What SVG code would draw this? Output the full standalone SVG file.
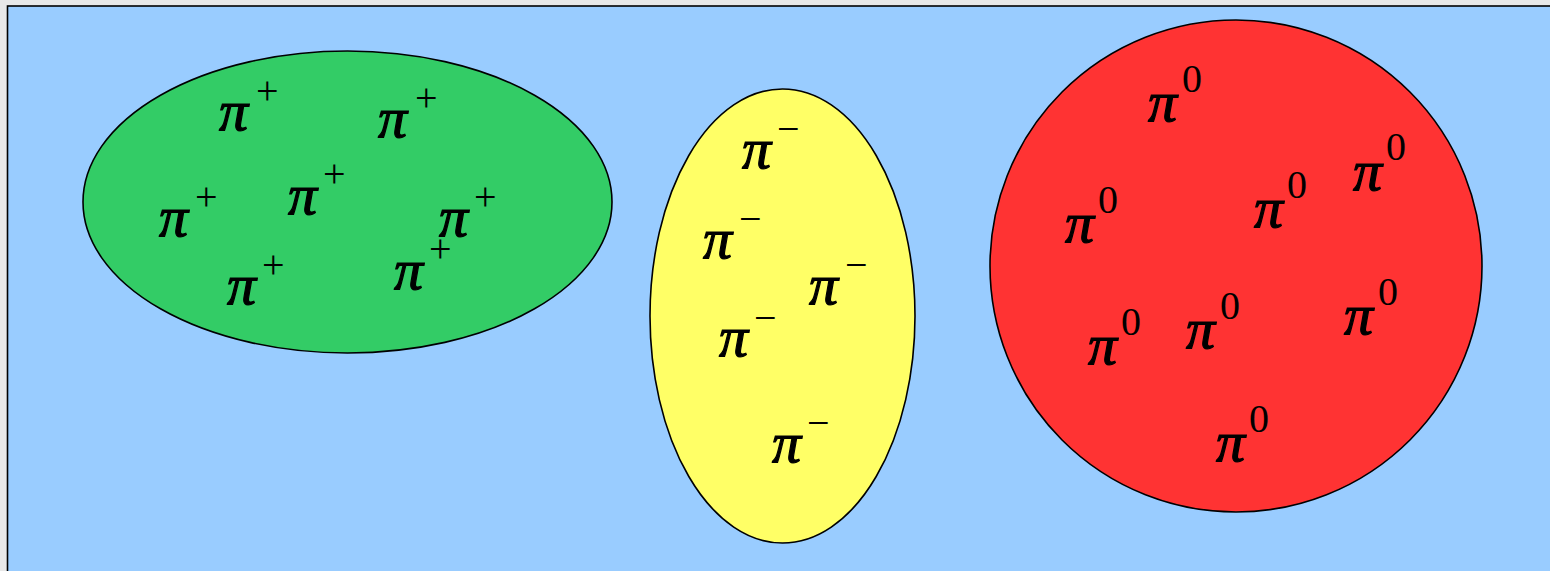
<svg xmlns="http://www.w3.org/2000/svg" width="1550" height="571" viewBox="0 0 1550 571">
<style>
.bg{fill:#e8e8e8}
.frame{fill:#99ccff;stroke:#000;stroke-width:1.6}
.shape{stroke:#000;stroke-width:1.6}
text{font-family:"Liberation Serif","Times New Roman",serif;fill:#000}
.p{font-style:italic;font-weight:normal;font-size:58px;stroke:#000;stroke-width:1.2}
.s{font-size:40px;font-style:normal;font-weight:normal;stroke:none}
</style>
<rect class="bg" x="0" y="0" width="1550" height="571"/>
<rect class="frame" x="7.5" y="6" width="1560" height="580"/>
<g id="green">
<ellipse class="shape" cx="347.5" cy="202" rx="264.5" ry="151" fill="#33cc66"/>
<text><tspan class="p" x="219" y="130">π</tspan><tspan class="s" x="256" y="104">+</tspan></text>
<text><tspan class="p" x="378" y="137">π</tspan><tspan class="s" x="415" y="111">+</tspan></text>
<text><tspan class="p" x="159" y="236">π</tspan><tspan class="s" x="195" y="210">+</tspan></text>
<text><tspan class="p" x="288" y="214">π</tspan><tspan class="s" x="323" y="187">+</tspan></text>
<text><tspan class="p" x="439" y="236">π</tspan><tspan class="s" x="474" y="210">+</tspan></text>
<text><tspan class="p" x="394" y="289">π</tspan><tspan class="s" x="429" y="262">+</tspan></text>
<text><tspan class="p" x="227" y="304">π</tspan><tspan class="s" x="262" y="278">+</tspan></text>
</g>
<g id="yellow">
<ellipse class="shape" cx="782.5" cy="316" rx="132.5" ry="227" fill="#ffff66"/>
<text><tspan class="p" x="742" y="168">π</tspan><tspan class="s" x="777" y="142">−</tspan></text>
<text><tspan class="p" x="703" y="258">π</tspan><tspan class="s" x="739" y="232">−</tspan></text>
<text><tspan class="p" x="809" y="304">π</tspan><tspan class="s" x="845" y="278">−</tspan></text>
<text><tspan class="p" x="719" y="356">π</tspan><tspan class="s" x="754" y="331">−</tspan></text>
<text><tspan class="p" x="772" y="462">π</tspan><tspan class="s" x="807" y="436">−</tspan></text>
</g>
<g id="red">
<circle class="shape" cx="1236" cy="266" r="246" fill="#ff3333"/>
<text><tspan class="p" x="1148" y="121">π</tspan><tspan class="s" x="1182" y="92">0</tspan></text>
<text><tspan class="p" x="1353" y="190">π</tspan><tspan class="s" x="1386" y="160">0</tspan></text>
<text><tspan class="p" x="1065" y="242">π</tspan><tspan class="s" x="1098" y="213">0</tspan></text>
<text><tspan class="p" x="1254" y="227">π</tspan><tspan class="s" x="1287" y="198">0</tspan></text>
<text><tspan class="p" x="1088" y="364">π</tspan><tspan class="s" x="1121" y="335">0</tspan></text>
<text><tspan class="p" x="1186" y="348">π</tspan><tspan class="s" x="1220" y="319">0</tspan></text>
<text><tspan class="p" x="1344" y="334">π</tspan><tspan class="s" x="1378" y="305">0</tspan></text>
<text><tspan class="p" x="1216" y="461">π</tspan><tspan class="s" x="1249" y="432">0</tspan></text>
</g>
<g id="connectors"/>
</svg>
